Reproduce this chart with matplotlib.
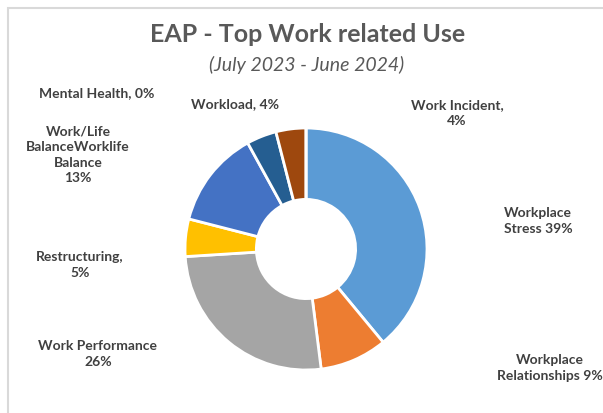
import matplotlib
matplotlib.use("Agg")
import matplotlib.pyplot as plt
from matplotlib.patches import Rectangle

categories = ["Workplace Stress", "Workplace Relationships", "Work Performance",
              "Restructuring", "Work/Life BalanceWorklife Balance", "Workload",
              "Work Incident", "Mental Health"]
values = [39, 9, 26, 5, 13, 4, 4, 0]
colors = ["#5B9BD5", "#ED7D31", "#A5A5A5", "#FFC000", "#4472C4", "#255E91",
          "#9E480E", "#636363"]
label_texts = ["Workplace\nStress 39%", "Workplace\nRelationships 9%",
               "Work Performance\n26%", "Restructuring,\n5%",
               "Work/Life\nBalanceWorklife\nBalance\n13%", "Workload, 4%",
               "Work Incident,\n4%", "Mental Health, 0%"]
# label centre positions in pixels (x from left, y from top)
label_pos = [(538, 221), (550, 368), (98, 354), (80, 265), (78, 155),
             (235, 104), (457, 113), (97, 93)]

plt.rcParams['font.family'] = ['Lato', 'DejaVu Sans']

W, H = 603, 414
fig = plt.figure(figsize=(W / 100, H / 100), dpi=100)
fig.patch.set_facecolor("white")

# chart border
fig.patches.append(Rectangle((7.5 / W, -0.1), 1.2, 1 - 8.5 / H + 0.1,
                             transform=fig.transFigure, fill=False,
                             edgecolor="#D9D9D9", linewidth=1.5))

cx, cy, r = 306, 250, 121
ax = fig.add_axes([(cx - r) / W, (H - cy - r) / H, 2 * r / W, 2 * r / H])
ax.pie(values, colors=colors, startangle=90, counterclock=False,
       radius=1.0, wedgeprops=dict(width=0.59, edgecolor="white", linewidth=2))
ax.set_xlim(-1, 1)
ax.set_ylim(-1, 1)
ax.set_aspect("equal")
ax.axis("off")

fig.text(308 / W, 1 - 35 / H, "EAP - Top Work related Use", ha="center",
         va="center", fontsize=18, fontweight="bold", color="#595959")
fig.text(307 / W, 1 - 65 / H, "(July 2023 - June 2024)", ha="center",
         va="center", fontsize=14, fontstyle="italic", color="#595959")

for txt, (x, y) in zip(label_texts, label_pos):
    fig.text(x / W, 1 - y / H, txt, ha="center", va="center", fontsize=10,
             fontweight="bold", color="#404040", linespacing=1.35)

fig.savefig("out.png", dpi=100, facecolor="white")
